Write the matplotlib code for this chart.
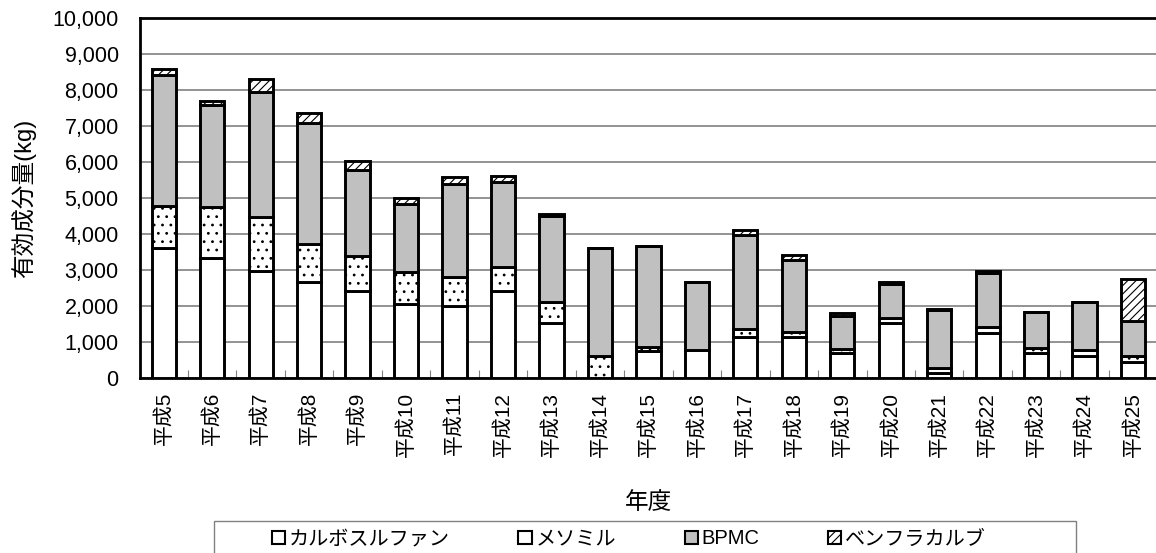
import matplotlib
matplotlib.use("Agg")
import matplotlib.pyplot as plt
from matplotlib.patches import Rectangle, Patch
import numpy as np

plt.rcParams['font.family'] = ['Liberation Sans', 'Noto Sans CJK JP', 'DejaVu Sans']
plt.rcParams['hatch.linewidth'] = 0.8

years = ["平成5", "平成6", "平成7", "平成8", "平成9", "平成10", "平成11", "平成12",
         "平成13", "平成14", "平成15", "平成16", "平成17", "平成18", "平成19", "平成20",
         "平成21", "平成22", "平成23", "平成24", "平成25"]
carbosulfan = [3600, 3340, 2980, 2680, 2430, 2050, 2000, 2420, 1520, 0, 760, 770,
               1140, 1130, 690, 1520, 130, 1250, 690, 610, 435]
methomyl = [1180, 1420, 1500, 1030, 960, 900, 800, 650, 600, 600, 90, 10,
            210, 155, 125, 140, 150, 175, 135, 160, 175]
bpmc = [3650, 2830, 3470, 3360, 2380, 1890, 2600, 2370, 2390, 3020, 2810, 1885,
        2610, 1995, 915, 950, 1600, 1490, 1000, 1340, 965]
benfuracarb = [150, 110, 350, 300, 270, 150, 170, 180, 45, 0, 0, 0,
               150, 130, 75, 55, 35, 50, 10, 0, 1185]
series_names = ["カルボスルファン", "メソミル", "BPMC", "ベンフラカルブ"]
y_ticks = [0, 1000, 2000, 3000, 4000, 5000, 6000, 7000, 8000, 9000, 10000]

W, H = 1156, 553
fig = plt.figure(figsize=(W / 100, H / 100), dpi=100)
ax = fig.add_axes([139.5 / W, 175 / H, 1017.8 / W, 360 / H])

series = [carbosulfan, methomyl, bpmc, benfuracarb]
faces = ["white", "white", "#C0C0C0", "white"]
hatches = [None, "..", None, "////"]
x = np.arange(len(years))
bottom = np.zeros(len(years))
for vals, fc, h in zip(series, faces, hatches):
    v = np.array(vals, dtype=float)
    ax.bar(x, v, width=0.5, bottom=bottom, color=fc, edgecolor="black",
           linewidth=2.1, hatch=h, zorder=3)
    bottom += v

ax.set_xlim(-0.5, len(years) - 0.5)
ax.set_ylim(0, 10000)
ax.set_yticks(y_ticks)
ax.set_yticklabels([f"{t:,}" for t in y_ticks], fontsize=15.5)
ax.yaxis.grid(True, color="#808080", linewidth=1.2, zorder=0)
ax.set_axisbelow(True)
ax.tick_params(axis="y", length=0, pad=15)

ax.set_xticks(x)
ax.set_xticklabels(years, rotation=90, fontsize=15, va="top")
ax.tick_params(axis="x", which="major", length=0, pad=10)
ax.set_xticks(np.arange(len(years) + 1) - 0.5, minor=True)
ax.tick_params(axis="x", which="minor", direction="in", length=6,
               color="#808080", width=0.8)

for s in ["left", "bottom", "top"]:
    ax.spines[s].set_linewidth(2)
    ax.spines[s].set_color("black")
ax.spines["right"].set_visible(False)

ax.set_ylabel("有効成分量(kg)", fontsize=17)
ax.yaxis.set_label_coords((24 - 139.5) / 1017.8, 0.5)
ax.yaxis.label.set_va("center")
ax.set_xlabel("年度", fontsize=17)
ax.xaxis.set_label_coords(0.5, (378 - 503) / 360)
ax.xaxis.label.set_va("center")

# legend box
fig.patches.append(Rectangle((214 / W, -10 / H), (1076 - 214) / W, (553 - 520.5 + 10) / H,
                             transform=fig.transFigure, facecolor="white",
                             edgecolor="#808080", linewidth=1.0))
legend_hatches = [None, None, None, "////"]
handles = [Patch(facecolor=fc, edgecolor="black", hatch=h, linewidth=1.5)
           for fc, h in zip(faces, legend_hatches)]
fig.legend(handles, series_names, loc="center", bbox_to_anchor=(629 / W, 14 / H),
           ncol=4, frameon=False, fontsize=14.5, handlelength=0.65, handleheight=0.65,
           handletextpad=0.2, columnspacing=3.4, borderpad=0)

fig.savefig("out.png", dpi=100)
